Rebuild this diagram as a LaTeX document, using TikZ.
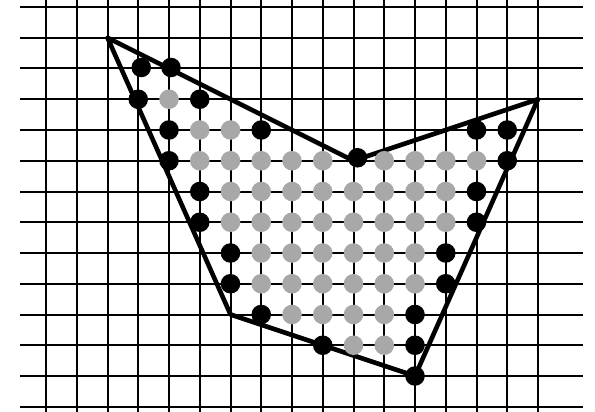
\documentclass[tikz,border=0pt]{standalone}
\definecolor{dotgray}{RGB}{168,168,168}
\tikzset{
  gridline/.style={black, line width=2pt},
  outline/.style={black, line width=4.6pt, line join=round},
  edgedot/.style={fill=black},
  innerdot/.style={fill=dotgray},
}
\begin{document}
\begin{tikzpicture}[x=1pt,y=-1pt]
\useasboundingbox (0,0) rectangle (595,412);
\begin{scope}[shift={(46,7)}, x=30.75pt, y=-30.75pt]
  % grid
  \foreach \i in {0,...,16} \draw[gridline] (\i,-0.25) -- (\i,13.2);
  \foreach \j in {0,...,13} \draw[gridline] (-0.846,\j) -- (17.46,\j);
  % polygon
  \coordinate (A) at (2,1);
  \coordinate (B) at (10,5);
  \coordinate (C) at (16,3);
  \coordinate (D) at (12,12);
  \coordinate (E) at (6,10);
  \draw[outline] (A) -- (B) -- (C) -- (D) -- (E) -- cycle;
  % inner (gray) dots
  \foreach \p in {(4,3),(5,4),(6,4),
      (5,5),(6,5),(7,5),(8,5),(9,5),(11,5),(12,5),(13,5),(14,5),
      (6,6),(7,6),(8,6),(9,6),(10,6),(11,6),(12,6),(13,6),
      (6,7),(7,7),(8,7),(9,7),(10,7),(11,7),(12,7),(13,7),
      (7,8),(8,8),(9,8),(10,8),(11,8),(12,8),
      (7,9),(8,9),(9,9),(10,9),(11,9),(12,9),
      (8,10),(9,10),(10,10),(11,10),
      (10,11),(11,11)}
    \fill[innerdot] \p circle[radius=9.8pt];
  % boundary (black) dots
  \foreach \p in {(3,3),(5,3),(4,4),(7,4),(14,4),(15,4),
      (4,5),(15,5),(5,6),(14,6),(5,7),(14,7),(6,8),(13,8),(6,9),(13,9),
      (7,10),(12,10),(9,11),(12,11),(12,12)}
    \fill[edgedot] \p circle[radius=9.8pt];
  \fill[edgedot] ([shift={(3pt,1pt)}]3,2) circle[radius=9.8pt];
  \fill[edgedot] ([shift={(2pt,1pt)}]4,2) circle[radius=9.8pt];
  \fill[edgedot] ([shift={(4pt,3pt)}]B) circle[radius=9.8pt];
\end{scope}
\end{tikzpicture}
\end{document}
